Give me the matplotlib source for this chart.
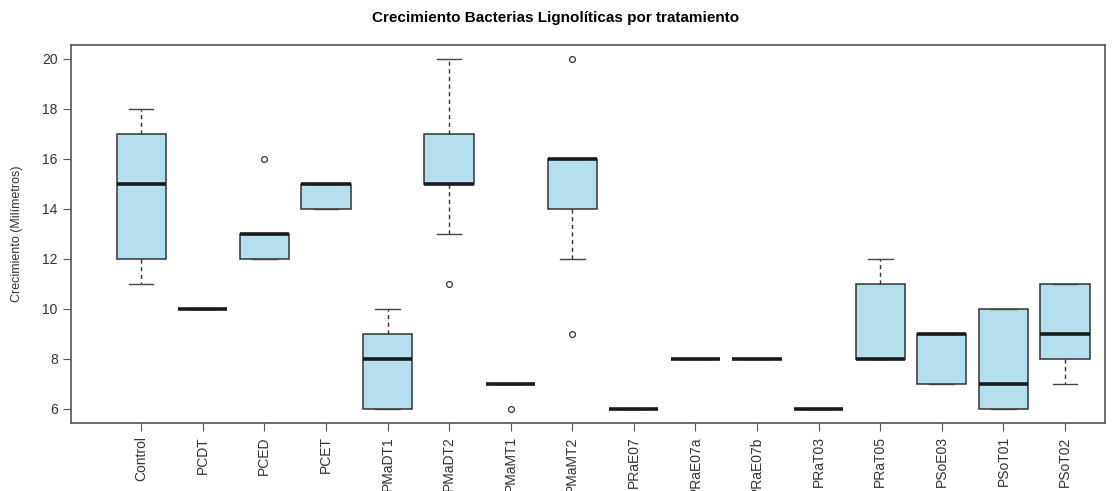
import matplotlib.pyplot as plt

plt.rcParams['font.family'] = ['Liberation Sans', 'DejaVu Sans']

# Treatment groups and their boxplot statistics
grupos = ['Control', 'PCDT', 'PCED', 'PCET', 'PMaDT1', 'PMaDT2', 'PMaMT1', 'PMaMT2',
          'PRaE07', 'PRaE07a', 'PRaE07b', 'PRaT03', 'PRaT05', 'PSoE03', 'PSoT01', 'PSoT02']
q1 = [12, 10, 12, 14, 6, 15, 7, 14, 6, 8, 8, 6, 8, 7, 6, 8]
mediana = [15, 10, 13, 15, 8, 15, 7, 16, 6, 8, 8, 6, 8, 9, 7, 9]
q3 = [17, 10, 13, 15, 9, 17, 7, 16, 6, 8, 8, 6, 11, 9, 10, 11]
bigote_inf = [11, 10, 12, 14, 6, 13, 7, 12, 6, 8, 8, 6, 8, 7, 6, 7]
bigote_sup = [18, 10, 13, 15, 10, 20, 7, 16, 6, 8, 8, 6, 12, 9, 10, 11]
atipicos = [[], [], [16], [], [], [11], [6], [9, 20], [], [], [], [], [], [], [], []]

stats = []
for i, g in enumerate(grupos):
    stats.append(dict(label=g, med=mediana[i], q1=q1[i], q3=q3[i],
                      whislo=bigote_inf[i], whishi=bigote_sup[i], fliers=atipicos[i]))

fig = plt.figure(figsize=(11.12, 4.91), dpi=100)
ax = fig.add_axes([0.0638, 0.1385, 0.9299, 0.7699])

ax.bxp(stats, positions=range(1, len(grupos) + 1), widths=0.8, patch_artist=True,
       boxprops=dict(facecolor='#b4dfed', edgecolor='#333333', linewidth=1.1),
       medianprops=dict(color='#1a1a1a', linewidth=2.6, solid_capstyle='butt'),
       whiskerprops=dict(color='#333333', linewidth=1, linestyle=(0, (3, 2.5))),
       capprops=dict(color='#444444', linewidth=1), capwidths=0.4,
       flierprops=dict(marker='o', markerfacecolor='none', markeredgecolor='#333333',
                       markersize=4.2, markeredgewidth=0.9))

ax.set_xlim(-0.14, 16.65)
ax.set_ylim(5.44, 20.56)
ax.set_yticks([6, 8, 10, 12, 14, 16, 18, 20])
ax.set_xticks(range(1, len(grupos) + 1))
ax.set_xticklabels(grupos, rotation=90, fontsize=10, color='#333333')
ax.tick_params(axis='y', labelsize=10, labelcolor='#333333', color='#555555', length=6)
ax.tick_params(axis='x', color='#555555', length=6)
for s in ax.spines.values():
    s.set_color('#555555')
    s.set_linewidth(1.2)

ax.set_ylabel('Crecimiento (Milímetros)', fontsize=9, color='#333333', labelpad=14)
fig.suptitle('Crecimiento Bacterias Lignolíticas por tratamiento', fontsize=11,
             fontweight='bold', y=0.978)

fig.savefig('out.png', dpi=100)
